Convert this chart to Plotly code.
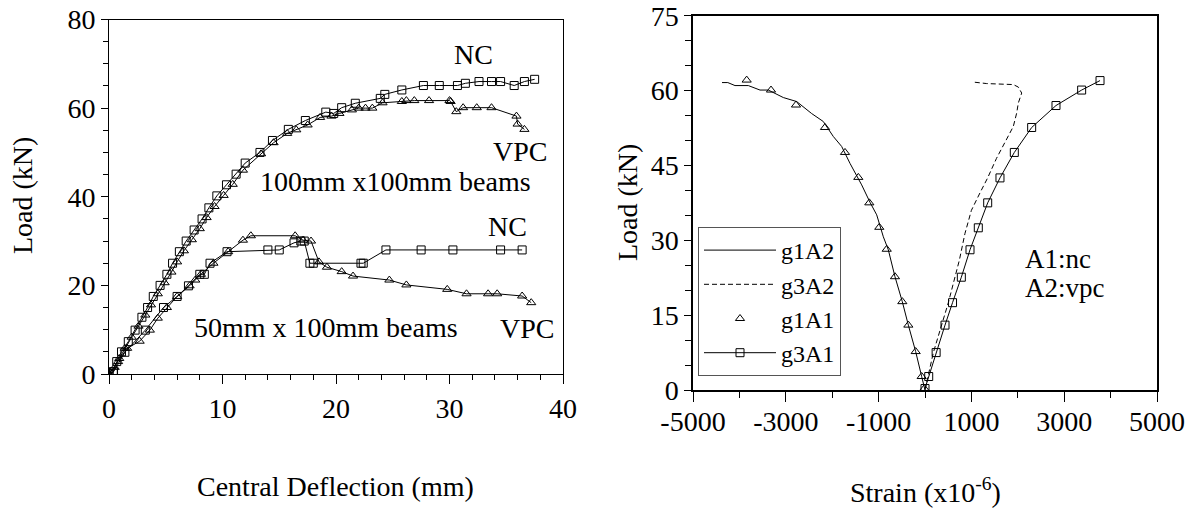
#!/usr/bin/env python
# coding: utf-8

# Load-deflection and load-strain curves (NC vs VPC beams)

import plotly.graph_objects as go

# ## 1. Data

# left panel: central deflection (mm) vs load (kN)
nc100_defl = [0, 0.38, 0.68, 1.1, 1.7, 2.3, 2.9, 3.4, 3.9, 4.5, 5.1, 5.6, 6.2, 6.8, 7.5, 8.2, 8.8, 9.5,
              10.35, 11.2, 12.0, 13.3, 14.4, 15.8, 17.3, 19.1, 19.8, 20.5, 21.7, 23.9, 24.3, 25.8, 27.7,
              29.1, 30.7, 31.4, 32.6, 33.7, 34.5, 35.7, 36.6, 37.5]
nc100_load = [0, 0.5, 2.8, 5.0, 7.3, 9.9, 12.8, 15.0, 17.5, 20.0, 22.5, 25.0, 27.6, 30.0, 32.5, 35.0, 37.5, 40.2,
              42.7, 45.1, 47.6, 50.0, 52.7, 55.2, 57.2, 59.1, 58.8, 60.1, 61.1, 62.2, 63.1, 64.1, 65.1,
              65.1, 65.1, 65.6, 66.0, 66.0, 66.0, 65.1, 66.0, 66.5]

vpc100_defl = [0, 0.5, 0.9, 1.4, 2.0, 2.6, 3.2, 3.7, 4.3, 4.9, 5.5, 6.0, 6.6, 7.3, 8.0, 8.6, 9.3, 10.1, 10.9,
               11.8, 13.4, 14.5, 15.7, 16.5, 17.5, 18.6, 19.6, 20.3, 21.4, 22.0, 22.6, 23.2, 24.1, 25.8,
               26.2, 26.9, 28.2, 30.0, 30.1, 30.6, 31.2, 32.4, 33.7, 35.9, 36.0, 36.6]
vpc100_load = [0, 1.5, 3.5, 5.8, 8.3, 10.8, 13.3, 15.6, 18.1, 20.6, 23.0, 25.3, 27.8, 30.3, 32.8, 35.3, 37.8,
               40.3, 42.8, 46.0, 49.7, 52.2, 54.3, 55.1, 56.2, 57.9, 58.2, 58.8, 59.6, 60.0, 60.0, 60.0,
               61.2, 61.5, 61.7, 61.7, 61.7, 61.7, 61.5, 59.2, 60.1, 60.1, 60.1, 58.2, 56.4, 55.2]

nc50_defl = [0, 0.4, 1.4, 3.2, 4.8, 6.0, 7.0, 8.0, 8.4, 8.9, 10.4, 14.0, 15.0, 16.3, 16.9, 17.2, 17.7, 18.0,
             22.2, 22.4, 24.4, 27.5, 30.3, 34.5, 36.4]
nc50_load = [0, 0.5, 4.9, 9.9, 15.0, 17.5, 19.9, 22.5, 22.5, 25.0, 27.6, 28.0, 28.0, 29.6, 30.0, 30.0, 25.0,
             25.0, 25.0, 25.0, 28.0, 28.0, 28.0, 28.0, 28.0]

vpc50_defl = [0, 0.8, 1.6, 2.7, 3.6, 4.3, 5.1, 6.0, 7.1, 7.6, 8.1, 9.2, 10.5, 11.8, 12.5, 16.4, 17.1, 17.8,
              18.5, 19.2, 20.5, 21.5, 24.7, 26.2, 29.8, 31.5, 33.4, 34.2, 36.4, 37.2]
vpc50_load = [0, 2.8, 5.8, 7.4, 9.9, 12.6, 15.0, 17.5, 19.9, 21.2, 22.5, 25.0, 27.6, 30.2, 31.2, 31.2, 30.2,
              30.0, 25.3, 24.1, 23.1, 22.1, 21.2, 20.1, 19.1, 18.1, 18.1, 18.1, 17.6, 16.1]

# right panel: strain (x10^-6) vs load (kN)
g1a2_strain = [-4375, -4250, -4095, -3808, -3556, -3377, -3053, -2766, -2443, -2192, -1976, -1796, -1616,
               -1365, -1185, -1041, -898, -791, -647, -489, -359, -201, -72, 0]
g1a2_load = [61.6, 61.6, 61.0, 61.0, 60.1, 60.1, 58.6, 57.8, 55.4, 53.8, 50.8, 48.8, 45.4,
             41.1, 37.6, 35.1, 30.7, 28.1, 22.7, 17.7, 13.0, 7.7, 2.7, 0]

g3a2_strain = [0, 180, 503, 740, 862, 1000, 1185, 1350, 1540, 1724, 1903, 1976, 2011, 2084, 2011, 1903,
               1329, 1042]
g3a2_load = [0, 7.5, 17.5, 26.0, 31.4, 36.0, 39.5, 42.5, 46.4, 49.5, 52.8, 55.5, 57.5, 59.5, 60.7, 61.2,
             61.4, 61.7]

g1a1_strain = [-3843, -3319, -2780, -2155, -1724, -1437, -1200, -985, -825, -647, -489, -359, -201, -72, -15]
g1a1_load = [62.1, 60.1, 57.1, 52.6, 47.6, 42.6, 37.5, 32.6, 28.2, 22.7, 17.7, 13.0, 7.7, 2.7, 0.3]

g3a1_strain = [0, 80, 240, 431, 593, 783, 970, 1149, 1351, 1616, 1925, 2299, 2823, 3376, 3772]
g3a1_load = [0.3, 2.7, 7.5, 13.0, 17.5, 22.6, 28.1, 32.5, 37.5, 42.5, 47.6, 52.6, 57.0, 60.1, 62.0]

left_xticks = [0, 10, 20, 30, 40]
left_yticks = [0, 20, 40, 60, 80]
right_xticks = [-5000, -3000, -1000, 1000, 3000, 5000]
right_xlabels = ["-5000", "-3000", "-1000", "1000", "3000", "5000"]  # plain hyphen like the original
right_yticks = [0, 15, 30, 45, 60, 75]

# ## 2. Style
FONT = "Liberation Serif"
W, H = 1195, 514
SQ = dict(symbol="square-open", size=8, color="black", line=dict(width=1, color="black"))
TRI = dict(symbol="triangle-up-open", size=8, color="black", line=dict(width=1, color="black"))
LINE = dict(color="black", width=1)

fig = go.Figure()

# ## 3. Left panel
for xs, ys, mk in [(nc100_defl, nc100_load, SQ), (vpc100_defl, vpc100_load, TRI),
                   (nc50_defl, nc50_load, SQ), (vpc50_defl, vpc50_load, TRI)]:
    fig.add_trace(go.Scatter(x=xs, y=ys, mode="lines+markers", marker=mk, line=LINE,
                             showlegend=False, xaxis="x", yaxis="y"))

# ## 4. Right panel
fig.add_trace(go.Scatter(x=g1a2_strain, y=g1a2_load, mode="lines", name="g1A2",
                         line=dict(color="black", width=1), xaxis="x2", yaxis="y2"))
fig.add_trace(go.Scatter(x=g3a2_strain, y=g3a2_load, mode="lines", name="g3A2",
                         line=dict(color="black", width=1, dash="5px,3px"), xaxis="x2", yaxis="y2"))
fig.add_trace(go.Scatter(x=g1a1_strain, y=g1a1_load, mode="markers", name="g1A1",
                         marker=TRI, xaxis="x2", yaxis="y2"))
fig.add_trace(go.Scatter(x=g3a1_strain, y=g3a1_load, mode="lines+markers", name="g3A1",
                         marker=SQ, line=LINE, xaxis="x2", yaxis="y2"))


def axis(domain, rng, tickvals, minor_dtick, width=1, ticklen=8, minorlen=5, anchor=None,
         ticktext=None, standoff=0):
    ax = dict(domain=domain, range=rng, tickvals=tickvals, ticks="outside", ticklen=ticklen,
              tickcolor="black", tickwidth=1, showline=True, linecolor="black", linewidth=width,
              mirror=True, showgrid=False, zeroline=False, anchor=anchor, automargin=False,
              ticklabelstandoff=standoff,
              tickfont=dict(family=FONT, size=28, color="black"),
              minor=dict(dtick=minor_dtick, ticks="outside", ticklen=minorlen, tickcolor="black",
                         showgrid=False))
    if ticktext is not None:
        ax["ticktext"] = ticktext
    return ax


def px_x(p):
    return p / W


def px_y(p):
    return 1 - p / H


fig.update_layout(
    template="none",
    width=W, height=H,
    margin=dict(l=0, r=0, t=0, b=0, autoexpand=False),
    paper_bgcolor="white", plot_bgcolor="white",
    font=dict(family=FONT, color="black"),
    xaxis=axis([px_x(109), px_x(563)], [0, 40], left_xticks, 2, ticklen=9, anchor="y"),
    yaxis=axis([px_y(374), px_y(19.5)], [0, 80], left_yticks, 5, ticklen=7, anchor="x"),
    xaxis2=axis([px_x(693), px_x(1157)], [-5000, 5000], right_xticks, 1000, width=1.5,
                ticklen=10, minorlen=6, anchor="y2", ticktext=right_xlabels, standoff=-4),
    yaxis2=axis([px_y(390), px_y(15.7)], [0, 75], right_yticks, 5, width=1.5,
                ticklen=7, minorlen=6, anchor="x2"),
    legend=dict(x=px_x(698), y=px_y(227), xanchor="left", yanchor="top",
                bgcolor="white", bordercolor="#555", borderwidth=1,
                font=dict(family=FONT, size=24, color="black"), itemwidth=72, tracegroupgap=0),
)

# ## 5. Text labels
notes = [
    ("NC", 32.1, 72.0),
    ("VPC", 36.2, 50.2),
    ("100mm x100mm beams", 25.2, 43.4),
    ("NC", 35.1, 33.4),
    ("50mm x 100mm beams", 19.1, 10.6),
    ("VPC", 36.8, 10.2),
]
for txt, xv, yv in notes:
    fig.add_annotation(text=txt, xref="x", yref="y", x=xv, y=yv, xanchor="center", yanchor="middle",
                       showarrow=False, font=dict(family=FONT, size=28, color="black"))

for txt, yv in [("A1:nc", 26.3), ("A2:vpc", 20.4)]:
    fig.add_annotation(text=txt, xref="x2", yref="y2", x=2112, y=yv, xanchor="left", yanchor="middle",
                       showarrow=False, font=dict(family=FONT, size=27, color="black"))

titles = [
    ("Load (kN)", px_x(22), px_y(196), -90),
    ("Central Deflection (mm)", px_x(335), px_y(486), 0),
    ("Load (kN)", px_x(628), px_y(203), -90),
    ("Strain (x10<sup>-6</sup>)", px_x(925), px_y(490), 0),
]
for txt, xv, yv, ang in titles:
    fig.add_annotation(text=txt, xref="paper", yref="paper", x=xv, y=yv, textangle=ang,
                       xanchor="center", yanchor="middle",
                       showarrow=False, font=dict(family=FONT, size=28, color="black"))

# the page body has a default 8px margin; drop it so the figure fills the window exactly
fig.write_html("out.html", config={"displayModeBar": False},
               post_script="document.body.style.margin='0';")
